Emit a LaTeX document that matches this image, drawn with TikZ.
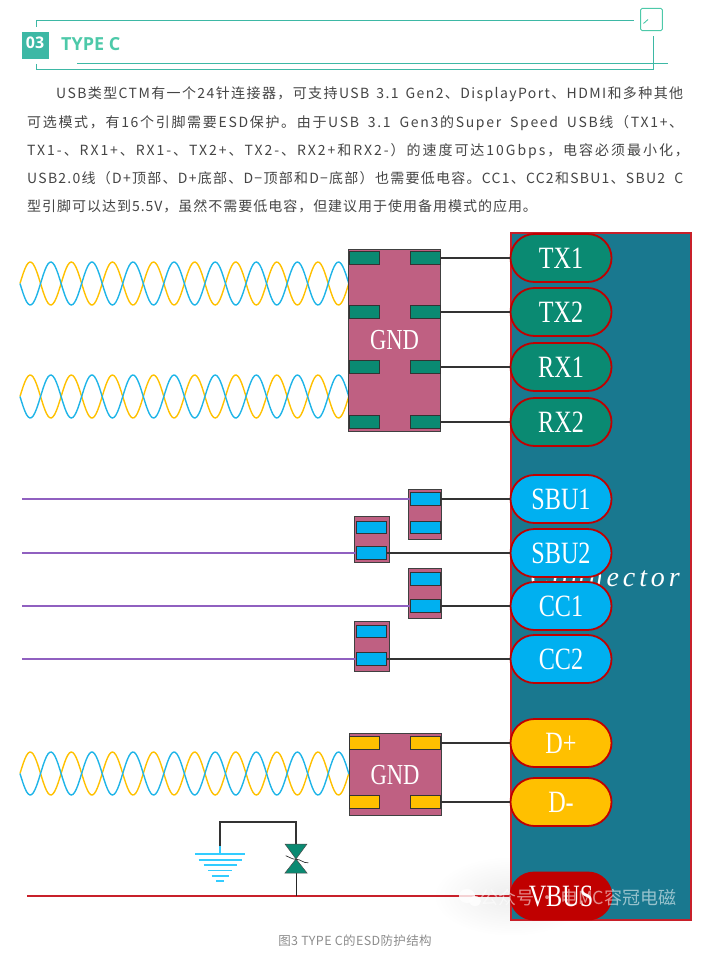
\documentclass[tikz,border=0pt]{standalone}
\usepackage{fontspec}
\usepackage{xcolor}
\usepackage{tikz}
\usetikzlibrary{positioning, calc, shapes.misc}

\newfontfamily\cjkfont{Noto Sans CJK SC}
\newfontfamily\headfont{Open Sans}
\newfontfamily\pinfont[FakeStretch=0.78]{Liberation Serif}
\newfontfamily\connfont[LetterSpace=14]{Liberation Serif}

\newcommand{\spaced}[1]{\addfontfeature{LetterSpace=#1}}

\definecolor{headteal}{HTML}{3DB8A5}
\definecolor{titleteal}{HTML}{4DC9A9}
\definecolor{bodygray}{HTML}{444444}
\definecolor{connteal}{HTML}{19788F}
\definecolor{connred}{HTML}{C8202A}
\definecolor{ovalred}{HTML}{C00000}
\definecolor{padgreen}{HTML}{0A8A72}
\definecolor{padblue}{HTML}{00B0F0}
\definecolor{padyellow}{HTML}{FFC000}
\definecolor{esdpink}{HTML}{BF6082}
\definecolor{twistblue}{HTML}{1FB4E8}
\definecolor{linepurple}{HTML}{9060C0}
\definecolor{earthblue}{HTML}{33CCFF}

\begin{document}
\begin{tikzpicture}[
      x=1pt, y=-1pt,
      frameline/.style={draw=headteal, line width=1pt},
      bodytext/.style={
        anchor=base west,
        inner sep=0pt,
        text=bodygray,
        font=\cjkfont\fontsize{14}{14}\selectfont
      },
      esdbox/.style={
        draw=black!75,
        fill=esdpink,
        line width=0.8pt,
        inner sep=0pt
      },
      esdpad/.style={
        draw=black!80,
        line width=0.7pt,
        minimum width=30pt,
        minimum height=12.4pt,
        inner sep=0pt
      },
      pinoval/.style={
        rounded rectangle,
        draw=ovalred,
        line width=1.8pt,
        minimum width=101pt,
        minimum height=48pt,
        inner sep=0pt,
        text=white,
        font=\pinfont\fontsize{31}{31}\selectfont
      },
      esdlabel/.style={
        inner sep=0pt,
        text=white,
        font=\pinfont\fontsize{29}{29}\selectfont
      },
      wire/.style={draw=black!80, line width=1.4pt},
      signal/.style={draw=linepurple, line width=1.4pt},
      twist/.style={line width=1.4pt}
    ]
    \useasboundingbox (0,0) rectangle (726,955);

    % heading
    \draw[frameline] (36.7,26.7) |- (634.3,21);
    \draw[frameline] (36.7,64) |- (653.3,69.3) -- (653.3,36);
    \draw[frameline] (77,63.3) -- (667.7,63.3);
    \node[draw=titleteal, line width=1pt, rounded corners=1.5pt, minimum width=21.6pt, minimum height=22.4pt, inner sep=0pt] (icon) at (651.5,19.5) {};
    \draw[titleteal, line width=0.9pt] (643.5,23.5) -- (648,19.5);
    \node[fill=headteal, minimum width=27pt, minimum height=26.7pt, inner sep=0pt] (number) at (35.5,45.3) {};
    \node[inner sep=0pt, text=white, font=\headfont\bfseries\fontsize{16}{16}\selectfont] (numbertext) at (35,42.5) {03};
    \node[anchor=west, inner sep=0pt, text=titleteal, font=\headfont\bfseries\fontsize{18}{18}\selectfont] (title) at (61,44.5) {TYPE C};

    % paragraph
    \node[bodytext] (line1) at (56,99) {\hbox to 627pt{\spaced{10}USB类型CTM有一个24针连接器，可支持USB 3.1 Gen2、DisplayPort、HDMI和多种其他}};
    \node[bodytext] (line2) at (27,127.5) {\hbox to 656pt{\spaced{12}可选模式，有16个引脚需要ESD保护。由于USB 3.1 Gen3的Super Speed USB线（TX1+、}};
    \node[bodytext] (line3) at (27,155.3) {\hbox to 656pt{\spaced{14}TX1-、RX1+、RX1-、TX2+、TX2-、RX2+和RX2-）的速度可达10Gbps，电容必须最小化，\hss}};
    \node[bodytext] (line4) at (27,183.3) {\hbox to 656pt{\spaced{9}USB2.0线（D+顶部、D+底部、D−顶部和D−底部）也需要低电容。CC1、CC2和SBU1、SBU2 C}};
    \node[bodytext] (line5) at (27,211.3) {\spaced{7}型引脚可以达到5.5V，虽然不需要低电容，但建议用于使用备用模式的应用。};

    % pale patch behind the mark
    \shade[inner color=black!7, outer color=white] (511,896) ellipse (78pt and 40pt);

    % connector body
    \node[draw=connred, fill=connteal, line width=2pt, minimum width=180pt, minimum height=687pt, inner sep=0pt] (connector) at (601,576.5) {};
    \node[anchor=base east, inner sep=0pt, text=white, font=\connfont\itshape\fontsize{28}{28}\selectfont] (conntext) at (680,586) {Connector};

    % twisted pairs
    \foreach \cy in {283.5,396.5,773.5} {
      \draw[padyellow, twist] plot[domain=20:349, samples=200] (\x,{\cy-21.5*sin(8.76*(\x-20))});
      \draw[twistblue, twist] plot[domain=20:349, samples=200] (\x,{\cy+21.5*sin(8.76*(\x-20))});
    }

    % pins on the connector
    \foreach \name/\cy/\label/\col in {
      tx1/258/TX1/padgreen, tx2/312/TX2/padgreen, rx1/367/RX1/padgreen, rx2/422/RX2/padgreen,
      sbu1/499/SBU1/padblue, sbu2/553/SBU2/padblue, cc1/606/CC1/padblue, cc2/659/CC2/padblue,
      dp/743/D+/padyellow, dm/802/D-/padyellow} {
      \node[pinoval, fill=\col] (\name) at (561,\cy) {\label};
    }

    % large ESD device
    \node[esdbox, minimum width=92pt, minimum height=182pt] (esdfour) at (394.5,340) {};
    \node[esdlabel] (gndfour) at (394.5,340) {GND};
    \foreach \i/\cy/\pin in {1/258/tx1, 2/312/tx2, 3/367/rx1, 4/422/rx2} {
      \node[esdpad, fill=padgreen] (padl\i) at (364.5,\cy) {};
      \node[esdpad, fill=padgreen] (padr\i) at (425.5,\cy) {};
      \draw[wire] (padr\i.east) -- (\pin.west);
    }

    % small ESD devices
    \node[esdbox, minimum width=33.4pt, minimum height=50pt] (esda) at (425,514) {};
    \node[esdbox, minimum width=34.7pt, minimum height=45.7pt] (esdb) at (371.6,539.2) {};
    \node[esdbox, minimum width=33.4pt, minimum height=50pt] (esdc) at (425,593.3) {};
    \node[esdbox, minimum width=34.7pt, minimum height=50.3pt] (esdd) at (371.6,646.2) {};
    \foreach \pad/\cy in {pada/499, padb/553, padc/606, padd/659} {
      \coordinate (start\pad) at (22,\cy);
    }
    \node[esdpad, fill=padblue] (pada) at (425.5,499) {};
    \node[esdpad, fill=padblue] (padaa) at (425.5,527.5) {};
    \node[esdpad, fill=padblue] (padbb) at (371.5,527.5) {};
    \node[esdpad, fill=padblue] (padb) at (371.5,553) {};
    \node[esdpad, fill=padblue] (padcc) at (425.5,578.7) {};
    \node[esdpad, fill=padblue] (padc) at (425.5,606) {};
    \node[esdpad, fill=padblue] (paddd) at (371.5,631.5) {};
    \node[esdpad, fill=padblue] (padd) at (371.5,659) {};
    \foreach \pad/\pin in {pada/sbu1, padb/sbu2, padc/cc1, padd/cc2} {
      \draw[signal] (start\pad) -- (\pad.west);
      \draw[wire] (\pad.east) -- (\pin.west);
    }

    % USB2.0 ESD device
    \node[esdbox, minimum width=92pt, minimum height=82pt] (esdtwo) at (395,774) {};
    \node[esdlabel] (gndtwo) at (395,775) {GND};
    \node[esdpad, fill=padyellow] (padyl1) at (364.5,743) {};
    \node[esdpad, fill=padyellow] (padyr1) at (425.5,743) {};
    \node[esdpad, fill=padyellow] (padyl2) at (364.5,802) {};
    \node[esdpad, fill=padyellow] (padyr2) at (425.5,802) {};
    \draw[wire] (padyr1.east) -- (dp.west);
    \draw[wire] (padyr2.east) -- (dm.west);

    % VBUS line, clamp and earth
    \coordinate (vbusstart) at (27,896);
    \coordinate (clampfoot) at (296,896);
    \coordinate (clamptop) at (296,844);
    \coordinate (clampbot) at (296,873);
    \coordinate (earthtop) at (220,846);
    \node[pinoval, fill=ovalred, minimum height=47pt] (vbus) at (561,896) {VBUS};
    \draw[connred, line width=1.8pt] (vbusstart) -- (vbus.west);
    \draw[black!85, line width=1pt] (clampbot) -- (clampfoot);
    \draw[black!80, line width=1.2pt] (earthtop) -- ++(0,-24) -| (clamptop);
    \draw[fill=padgreen, draw=black!70, line width=0.5pt] (285,844) -- (307,844) -- (296,859) -- cycle;
    \draw[fill=padgreen, draw=black!70, line width=0.5pt] (285,873) -- (307,873) -- (296,859) -- cycle;
    \draw[black!80, line width=0.7pt] (285.7,855.7) to[out=-20,in=180] (296.3,859.3) to[out=0,in=190] (308.3,862.7);
    \draw[earthblue, line width=1.3pt] (earthtop) -- (220,853.5);
    \foreach \cy/\half in {854/25, 860/21.5, 865/16.5, 870.5/12, 876/8.5, 881/4} {
      \draw[earthblue, line width=1.6pt] (220-\half,\cy) -- (220+\half,\cy);
    }

    % faint mark over the corner
    \fill[white, opacity=0.8] (467,896) ellipse (8pt and 7pt);
    \fill[white, opacity=0.8] (475,901) ellipse (6pt and 5pt);
    \node[anchor=west, inner sep=0pt, text=white, opacity=0.55, font=\cjkfont\fontsize{18}{18}\selectfont] (mark) at (480,898) {公众号 · 电MC容冠电磁};

    % caption
    \node[inner sep=0pt, text=black!45, font=\cjkfont\fontsize{12.5}{12.5}\selectfont] (caption) at (355,941) {\spaced{3}图3 TYPE C的ESD防护结构};
\end{tikzpicture}
\end{document}
